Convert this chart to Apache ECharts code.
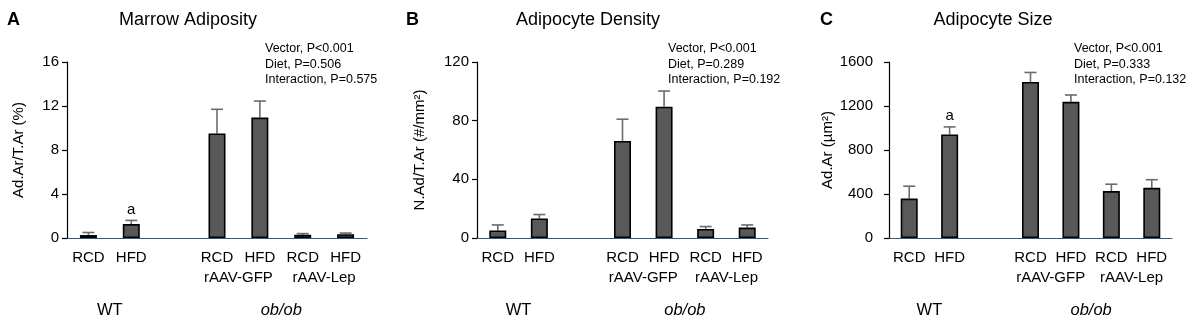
<!DOCTYPE html>
<html><head><meta charset="utf-8">
<script src="https://cdn.jsdelivr.net/npm/echarts@6/dist/echarts.min.js"></script>
<style>html,body{margin:0;padding:0;background:#fff}#c{width:1192px;height:319px}</style>
</head><body><div id="c"></div>
<script>
// ---- data ----
const categories = ['RCD', 'HFD', '', 'RCD', 'HFD', 'RCD', 'HFD'];
const vectorLabels = [[4, 'rAAV-GFP'], [6, 'rAAV-Lep']];
const genotypeLabels = [[1, 'WT'], [5, 'ob/ob']];

const panelLetters = ['A', 'B', 'C'];
const panelTitles = ['Marrow Adiposity', 'Adipocyte Density', 'Adipocyte Size'];
const yNames = ['Ad.Ar/T.Ar (%)', 'N.Ad/T.Ar (#/mm²)', 'Ad.Ar (µm²)'];
const yMax = [16, 120, 1600];
const yInterval = [4, 40, 400];

const meanA = [0.27, 1.27, null, 9.5, 10.95, 0.3, 0.35];
const errA  = [0.5, 1.6, null, 11.7, 12.45, 0.4, 0.45];
const meanB = [5.1, 13.3, null, 66.2, 89.5, 6.2, 7.1];
const errB  = [8.9, 16.0, null, 81.0, 100.2, 7.8, 8.9];
const meanC = [358, 942, null, 1419, 1238, 427, 456];
const errC  = [471, 1010, null, 1505, 1300, 489, 530];
const sigA = ['', 'a', '', '', '', '', ''];
const sigB = ['', '', '', '', '', '', ''];
const sigC = ['', 'a', '', '', '', '', ''];

const statsA = ['Vector, P<0.001', 'Diet, P=0.506', 'Interaction, P=0.575'];
const statsB = ['Vector, P<0.001', 'Diet, P=0.289', 'Interaction, P=0.192'];
const statsC = ['Vector, P<0.001', 'Diet, P=0.333', 'Interaction, P=0.132'];

// ---- layout ----
const FONT = 'Liberation Sans, Arial, sans-serif';
const grids = [
  {left: 67, width: 300, top: 62, height: 180, yOff: 0, nameGap: 41, letterX: 14, titleX: 188, statsX: 265},
  {left: 477, width: 291, top: 62, height: 180, yOff: 0, nameGap: 50, letterX: 413, titleX: 588, statsX: 668},
  {left: 889, width: 283, top: 62, height: 180, yOff: 8, nameGap: 46, letterX: 827, titleX: 993, statsX: 1074}
];
const means = [meanA, meanB, meanC];
const errs = [errA, errB, errC];
const sigs = [sigA, sigB, sigC];
const stats = [statsA, statsB, statsC];

const option = {
  animation: false,
  textStyle: {fontFamily: FONT},
  grid: [], xAxis: [], yAxis: [], series: [], graphic: []
};

grids.forEach((g, p) => {
  option.grid.push({left: g.left, width: g.width, top: g.top, height: g.height, containLabel: false});
  option.xAxis.push({
    type: 'category', gridIndex: p, data: categories, position: 'bottom',
    axisLine: {lineStyle: {color: '#44546a', width: 1.2}},
    axisTick: {show: false},
    axisLabel: {color: '#000', fontSize: 15, margin: 12, interval: 0, fontFamily: FONT}
  });
  option.xAxis.push({
    type: 'value', gridIndex: p, min: 0, max: 7, interval: 1, position: 'bottom',
    axisLine: {show: false, onZero: false}, axisTick: {show: false}, splitLine: {show: false},
    axisLabel: {color: '#000', fontSize: 15, margin: 32, showMinLabel: true, showMaxLabel: true, fontFamily: FONT,
      formatter: v => { const f = vectorLabels.find(d => d[0] === v); return f ? f[1] : ''; }}
  });
  option.xAxis.push({
    type: 'value', gridIndex: p, min: 0, max: 7, interval: 1, position: 'bottom',
    axisLine: {show: false, onZero: false}, axisTick: {show: false}, splitLine: {show: false},
    axisLabel: {color: '#000', fontSize: 16.5, margin: 64, showMinLabel: true, showMaxLabel: true, fontFamily: FONT,
      formatter: v => { const f = genotypeLabels.find(d => d[0] === v); return f ? (v === 5 ? '{i|' + f[1] + '}' : f[1]) : ''; },
      rich: {i: {fontStyle: 'italic', fontSize: 16.5, fontFamily: FONT}}}
  });
  option.yAxis.push({
    type: 'value', gridIndex: p, min: 0, max: yMax[p], interval: yInterval[p], offset: g.yOff,
    name: yNames[p], nameLocation: 'middle', nameGap: g.nameGap, nameRotate: 90,
    nameTextStyle: {color: '#000', fontSize: 15, fontFamily: FONT},
    axisLine: {show: true, lineStyle: {color: '#000', width: 1.2}},
    axisTick: {show: true, length: 5, lineStyle: {color: '#000', width: 1.2}},
    axisLabel: {color: '#000', fontSize: 15, margin: 8, fontFamily: FONT, formatter: v => String(v)},
    splitLine: {show: false}
  });
  option.series.push({
    type: 'bar', xAxisIndex: p * 3, yAxisIndex: p, data: means[p], barWidth: 17,
    itemStyle: {color: '#595959', borderColor: '#000', borderWidth: 1.6},
    z: 2
  });
  const eb = means[p].map((m, i) => [i, m, errs[p][i], sigs[p][i]]).filter(d => d[1] != null);
  option.series.push({
    type: 'custom', xAxisIndex: p * 3, yAxisIndex: p, data: eb, z: 1,
    renderItem: (params, api) => {
      const lo = api.coord([api.value(0), api.value(1)]);
      const hi = api.coord([api.value(0), api.value(2)]);
      const children = [
        {type: 'line', shape: {x1: lo[0], y1: lo[1], x2: hi[0], y2: hi[1]}, style: {stroke: '#6b6b6b', lineWidth: 1.6}},
        {type: 'line', shape: {x1: hi[0] - 6, y1: hi[1], x2: hi[0] + 6, y2: hi[1]}, style: {stroke: '#6b6b6b', lineWidth: 1.6}}
      ];
      const s = eb[params.dataIndex][3];
      if (s) children.push({type: 'text', style: {text: s, x: hi[0], y: hi[1] - 11, textAlign: 'center', textVerticalAlign: 'middle', fontSize: 15, fontFamily: FONT, fill: '#000'}});
      return {type: 'group', children};
    }
  });
  option.graphic.push({type: 'text', left: g.letterX - 7, top: 11, style: {text: panelLetters[p], fontSize: 18, fontWeight: 'bold', fontFamily: FONT, fill: '#000'}});
  option.graphic.push({type: 'text', x: g.titleX, y: 20, style: {text: panelTitles[p], fontSize: 18, fontFamily: FONT, fill: '#000', textAlign: 'center', textVerticalAlign: 'middle'}});
  stats[p].forEach((t, k) => {
    option.graphic.push({type: 'text', x: g.statsX, y: 49 + k * 15.5, style: {text: t, fontSize: 12.5, fontFamily: FONT, fill: '#000', textAlign: 'left', textVerticalAlign: 'middle'}});
  });
});

const chart = echarts.init(document.getElementById('c'), null, {renderer: 'canvas'});
chart.setOption(option);
</script>
</body></html>
